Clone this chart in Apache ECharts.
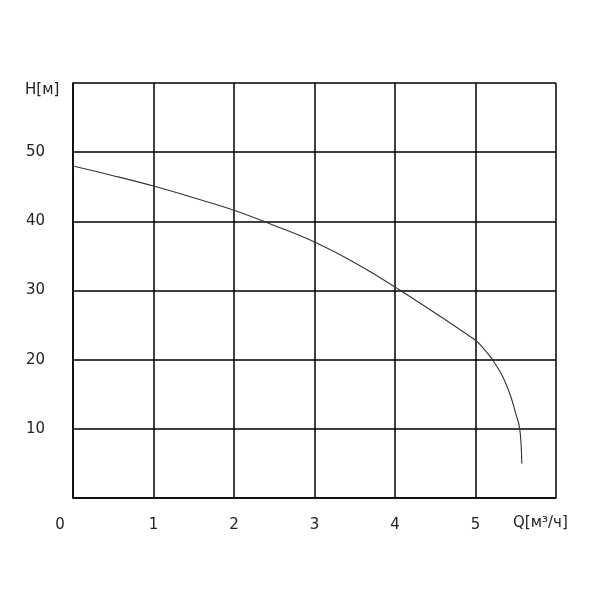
<!DOCTYPE html>
<html><head><meta charset="utf-8">
<script src="https://cdn.jsdelivr.net/npm/echarts@6/dist/echarts.min.js"></script>
<style>html,body{margin:0;padding:0;background:#fff}#c{width:600px;height:600px}</style>
</head><body><div id="c"></div>
<script>
const flowQ = [0, 0.5, 1, 1.5, 2, 2.5, 3, 3.5, 4, 5, 5.1, 5.21, 5.34, 5.44, 5.5, 5.55, 5.575];
const headH = [48, 46.6, 45.1, 43.4, 41.6, 39.4, 37, 34, 30.5, 22.8, 21.6, 20, 17.5, 14.6, 12.2, 10, 5];
const xTicks = [0, 1, 2, 3, 4, 5];
const yTicks = [10, 20, 30, 40, 50];
const xTitle = 'Q[м³/ч]';
const yTitle = 'H[м]';

const font = 'DejaVu Sans';
const chart = echarts.init(document.getElementById('c'));
chart.setOption({
  animation: false,
  backgroundColor: '#fff',
  grid: {left: 73, right: 44, top: 83, bottom: 102},
  xAxis: {
    type: 'value', min: 0, max: 6, interval: 1,
    axisLine: {show: true, lineStyle: {color: '#000', width: 1.5}},
    axisTick: {show: false},
    splitLine: {show: true, lineStyle: {color: '#000', width: 1.5}},
    axisLabel: {
      margin: 20, color: '#222', fontFamily: font, fontSize: 15,
      formatter: v => xTicks.includes(v) ? (v === 0 ? '{z|0}' : String(v)) : '',
      rich: {z: {padding: [0, 26, 0, 0], fontFamily: font, fontSize: 15, color: '#222'}}
    }
  },
  yAxis: {
    type: 'value', min: 0, max: 60, interval: 10,
    axisLine: {show: true, lineStyle: {color: '#000', width: 1.5}},
    axisTick: {show: false},
    splitLine: {show: true, lineStyle: {color: '#000', width: 1.5}},
    axisLabel: {
      margin: 28, color: '#222', fontFamily: font, fontSize: 15,
      formatter: v => yTicks.includes(v) ? String(v) : ''
    }
  },
  graphic: [
    {type: 'text', left: 25, top: 83, style: {text: yTitle, font: '15px "DejaVu Sans"', fill: '#222'}},
    {type: 'text', left: 513, top: 516, style: {text: xTitle, font: '15px "DejaVu Sans"', fill: '#222'}}
  ],
  series: [{
    type: 'line', data: flowQ.map((q, i) => [q, headH[i]]),
    smooth: 0.4, symbol: 'none',
    lineStyle: {color: '#333', width: 1.1}
  }]
});
</script></body></html>
